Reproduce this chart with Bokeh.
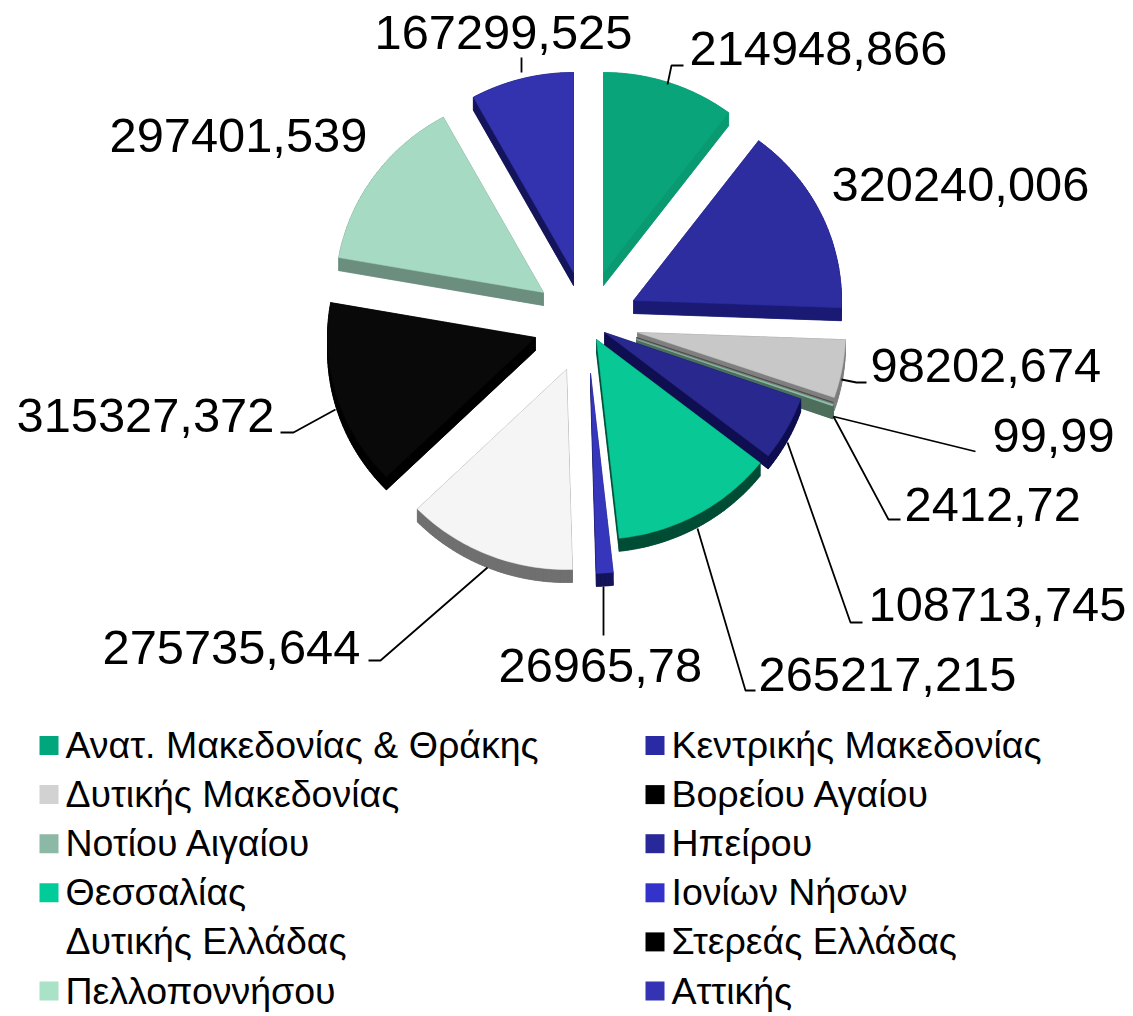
import math
from bokeh.plotting import figure
from bokeh.models import Range1d
from bokeh.core.properties import value
from bokeh.embed import file_html
from bokeh.resources import INLINE

regions = ["Ανατ. Μακεδονίας & Θράκης", "Κεντρικής Μακεδονίας", "Δυτικής Μακεδονίας", "Βορείου Αγαίου",
           "Νοτίου Αιγαίου", "Ηπείρου", "Θεσσαλίας", "Ιονίων Νήσων", "Δυτικής Ελλάδας", "Στερεάς Ελλάδας",
           "Πελλοποννήσου", "Αττικής"]
values = [214948.866, 320240.006, 98202.674, 99.99, 2412.72, 108713.745, 265217.215, 26965.78,
          275735.644, 315327.372, 297401.539, 167299.525]
labels = ["214948,866", "320240,006", "98202,674", "99,99", "2412,72", "108713,745", "265217,215",
          "26965,78", "275735,644", "315327,372", "297401,539", "167299,525"]

top_colors = ["#0AA47B", "#2D2DA0", "#C8C8C8", "#3A3A3A", "#8CC4AC", "#28288F", "#08C896", "#3636BC",
              "#F5F5F5", "#090909", "#A7DAC3", "#3333AF"]
rim_colors = ["#0A9A72", "#1A1A75", "#7F7F7F", "#7F7F7F", "#4E6E5C", "#0E0E50", "#004D35", "#14145A",
              "#707070", "#000000", "#6B8E7E", "#14145A"]
legend_colors = ["#00A67C", "#2A2AA5", "#D2D2D2", "#000000", "#8CB9A5", "#28289A", "#00CC99", "#3333CC",
                 "#FFFFFF", "#000000", "#AAE2C8", "#3333B3"]

# layout
apex_x = [603, 633, 637, 636, 636, 604, 596, 590, 566, 535, 543, 573]
apex_y = [272, 300, 332, 337, 339, 332, 339, 373, 369, 337, 292, 272]
RX, RY, DEPTH = 208, 200, 13
FS_LABEL = "48.8px"
label_xy = [(689, 48), (831, 184), (870, 365), (992, 435), (904, 504), (868, 604), (758, 674),
            (498, 665), (102, 647), (16, 415), (109, 135), (374, 32)]
leaders = [
    [(683, 65), (671, 65), (667, 84)],
    [(866, 382), (856, 382), (841, 379)],
    [(975, 451), (833, 416)],
    [(900, 519), (888, 519), (833, 416)],
    [(862, 622), (850, 622), (787, 442)],
    [(755, 690), (745, 690), (697, 528)],
    [(603, 586), (603, 635)],
    [(368, 660), (380, 660), (487, 567)],
    [(280, 432), (293, 432), (335, 409)],
    [(521, 72), (521, 57)],
]

W, H = 1130, 1012
p = figure(width=W, height=H, x_range=Range1d(0, W), y_range=Range1d(H, 0),
           toolbar_location=None, output_backend="svg", min_border=0, outline_line_color=None)
p.axis.visible = False
p.grid.visible = False
p.background_fill_color = "white"

total = sum(values)
cum = 0.0
for i, v in enumerate(values):
    a0 = cum / total * 2 * math.pi
    cum += v
    a1 = cum / total * 2 * math.pi
    n = max(2, int((a1 - a0) / 0.02))
    xs = [apex_x[i]]
    ys = [apex_y[i]]
    for k in range(n + 1):
        a = a0 + (a1 - a0) * k / n
        xs.append(apex_x[i] + RX * math.sin(a))
        ys.append(apex_y[i] - RY * math.cos(a))
    # extruded side: shifted outline plus one quad per edge
    sx, sy = [xs], [[y + DEPTH for y in ys]]
    m = len(xs)
    for k in range(m):
        j = (k + 1) % m
        sx.append([xs[k], xs[j], xs[j], xs[k]])
        sy.append([ys[k], ys[j], ys[j] + DEPTH, ys[k] + DEPTH])
    p.patches(sx, sy, fill_color=rim_colors[i], line_color=rim_colors[i], line_width=0.5)
    p.patch(xs, ys, fill_color=top_colors[i], line_color=top_colors[i], line_width=0.5)

for seg in leaders:
    p.line([q[0] for q in seg], [q[1] for q in seg], line_color="black", line_width=1.8)

p.text([q[0] for q in label_xy], [q[1] for q in label_xy], text=labels, text_font=value("Liberation Sans"),
       text_font_size=FS_LABEL, text_color="black", text_baseline="middle", text_align="left")

# legend: two columns, row by row
for i, name in enumerate(regions):
    col, row = i % 2, i // 2
    y = 744.5 + row * 49.1
    sx = [48.5, 654.5][col]
    tx = [65, 671][col]
    p.rect([sx], [745 + row * 49.1], width=19, height=19, fill_color=legend_colors[i], line_color=None)
    p.text([tx], [y], text=[name], text_font=value("Liberation Sans"), text_font_size="37.5px",
           text_color="black", text_baseline="middle", text_align="left")

open("out.html", "w").write(file_html(p, INLINE))
